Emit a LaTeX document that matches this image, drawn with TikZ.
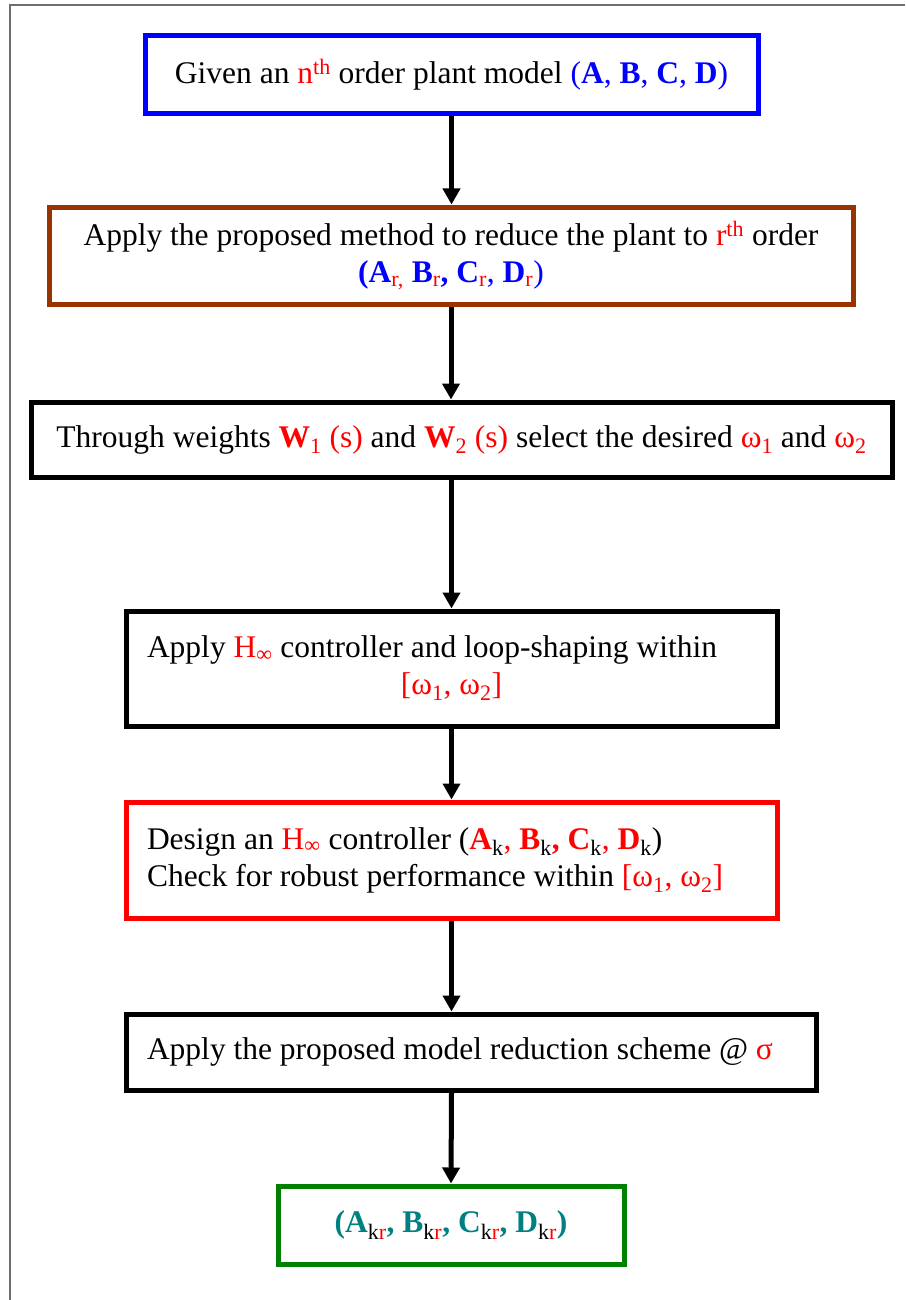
\documentclass[tikz,border=0pt]{standalone}
\usepackage{fontspec}
\setmainfont{Liberation Serif}
\usetikzlibrary{arrows.meta}
\definecolor{boxblue}{RGB}{0,0,255}
\definecolor{boxbrown}{RGB}{153,51,0}
\definecolor{boxgreen}{RGB}{0,128,0}
\definecolor{boxteal}{RGB}{0,128,128}
\definecolor{hired}{RGB}{255,0,0}
\definecolor{framegray}{RGB}{110,110,110}
\newcommand\hlred[1]{\textcolor{hired}{#1}}
\newcommand\lowtext[1]{\textsubscript{#1}}
\begin{document}
\begin{tikzpicture}[x=1pt,y=-1pt,
  stepbox/.style={draw, line width=5pt, fill=white, inner sep=0pt, align=center,
    font=\fontsize{31.5}{37}\selectfont},
  leftbox/.style={stepbox, align=flush left, inner xsep=21pt},
  flow/.style={line width=5pt, -{Triangle[width=17pt,length=16pt]}}]
\useasboundingbox (0,0) rectangle (905,1300);
% page frame
\draw[framegray, line width=1.5pt] (10,1300) -- (10,5) -- (905,5);

\node[stepbox, draw=boxblue, minimum width=613, minimum height=78] (given) at (451.5,75)
  {Given an \hlred{n\textsuperscript{th}} order plant model \textcolor{boxblue}{(\textbf{A}, \textbf{B}, \textbf{C}, \textbf{D})}};

\node[stepbox, draw=boxbrown, minimum width=804, minimum height=97] (reduce) at (451,255.5)
  {Apply the proposed method to reduce the plant to \hlred{r\textsuperscript{th}} order\\
   \textcolor{boxblue}{\textbf{(A}\lowtext{\hlred{r,}} \textbf{B}\lowtext{\hlred{r}}\textbf{, C}\lowtext{\hlred{r}}, \textbf{D}\lowtext{\hlred{r}})}};

\node[stepbox, minimum width=861, minimum height=75] (weights) at (461.5,439.5)
  {Through weights \hlred{\textbf{W}\lowtext{1} (s)} and \hlred{\textbf{W}\lowtext{2} (s)} select the desired \hlred{ω\lowtext{1}} and \hlred{ω\lowtext{2}}};

\node[leftbox, text width=609pt, minimum width=651, minimum height=115] (shaping) at (451.5,668.5)
  {Apply \hlred{H\lowtext{∞}} controller and loop-shaping within\\
   \makebox[609pt]{\hlred{[ω\lowtext{1}, ω\lowtext{2}]}}};

\node[leftbox, draw=hired, text width=609pt, minimum width=651, minimum height=116] (design) at (451.5,860)
  {Design an \hlred{H\lowtext{∞}} controller (\hlred{\textbf{A}}\lowtext{k}\hlred{,} \hlred{\textbf{B}}\lowtext{k}\hlred{\textbf{,} \textbf{C}}\lowtext{k}\hlred{,} \hlred{\textbf{D}}\lowtext{k})\\
   Check for robust performance within \hlred{[ω\lowtext{1}, ω\lowtext{2}]}};

\node[leftbox, text width=648pt, minimum width=690, minimum height=76] (scheme) at (471,1052)
  {Apply the proposed model reduction scheme @ \hlred{σ}};

\node[stepbox, draw=boxgreen, minimum width=346, minimum height=78] (result) at (451,1225)
  {\textcolor{boxteal}{\textbf{(A}\lowtext{\textcolor{black}{k}\hlred{r}}\textbf{, B}\lowtext{\textcolor{black}{k}\hlred{r}}\textbf{, C}\lowtext{\textcolor{black}{k}\hlred{r}}\textbf{, D}\lowtext{\textcolor{black}{k}\hlred{r}}\textbf{)}}};

\draw[flow] (given.south) -- (given.south |- reduce.north);
\draw[flow] (reduce.south) -- (reduce.south |- weights.north);
\draw[flow] (weights.south -| shaping.north) -- (shaping.north);
\draw[flow] (shaping.south) -- (design.north);
\draw[flow] (design.south) -- (design.south |- scheme.north);
\draw[flow] (design.south |- scheme.south) -- (result.north);
\end{tikzpicture}
\end{document}
